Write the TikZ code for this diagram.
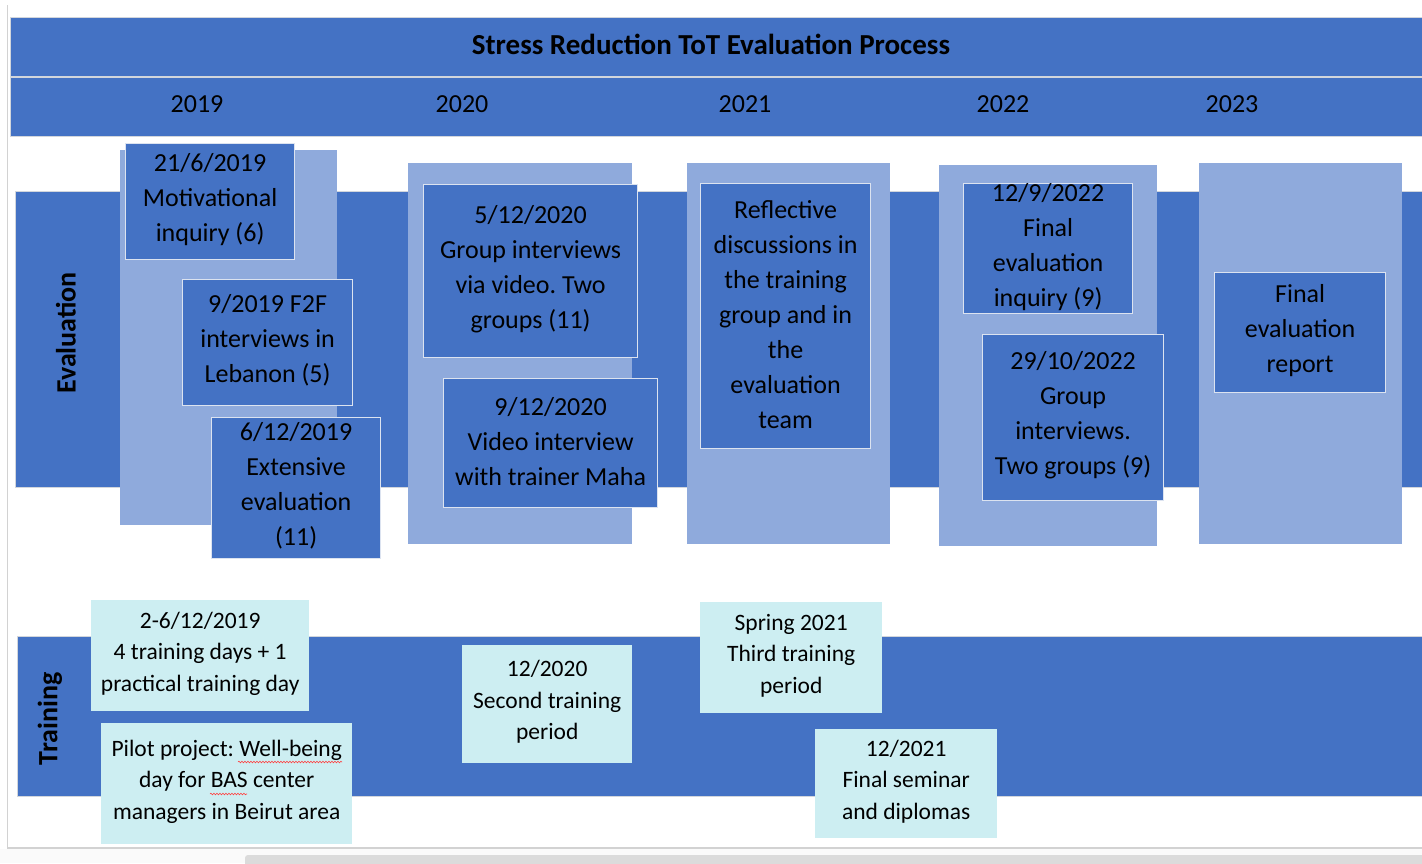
\documentclass[tikz,border=0pt]{standalone}
\usepackage{fontspec}
\setmainfont{Carlito}
\frenchspacing
\usetikzlibrary{positioning,decorations.pathmorphing}
\definecolor{darkblue}{HTML}{4472C4}
\definecolor{paleblue}{HTML}{8FAADC}
\definecolor{palecyan}{HTML}{CDEEF2}
\definecolor{edgegray}{HTML}{D2D6DC}
\definecolor{boxedge}{HTML}{DCE3F0}
\tikzset{>=latex}

\begin{document}
\begin{tikzpicture}[x=1pt,y=-1pt,
	band/.style={fill=darkblue,draw=edgegray,line width=0.8pt},
	yearcol/.style={fill=paleblue,inner sep=0pt,anchor=north west},
	evbox/.style={fill=darkblue,draw=boxedge,line width=1.2pt,inner sep=0pt,anchor=north west},
	trbox/.style={fill=palecyan,inner sep=0pt,anchor=north west},
	evtext/.style={align=center,inner sep=0pt,yshift=2pt,font=\fontsize{26}{35}\selectfont},
	trtext/.style={align=center,inner sep=0pt,yshift=2pt,font=\fontsize{23.5}{31.5}\selectfont},
	yeartext/.style={font=\fontsize{26}{30}\selectfont},
	sidetext/.style={rotate=90,font=\bfseries\fontsize{28}{30}\selectfont},
	spell/.style={red!75,line width=0.6pt,decorate,decoration={snake,amplitude=0.8pt,segment length=3pt}}]
	\useasboundingbox (0,0) rectangle (1422,863);
	% window edge
	\fill[gray!4] (0,849) rectangle (1422,863);
	\fill[gray!28,rounded corners=3pt] (245,855) rectangle (1430,870);
	\draw[gray!35,line width=1.2pt] (7.5,5) -- (7.5,848) -- (1422,848);
	% bands
	\draw[band] (10,17) rectangle (1425,76);
	\draw[band] (10,77) rectangle (1425,136);
	\draw[band] (15,191) rectangle (1425,487);
	\draw[band] (17,636) rectangle (1425,796);
	\node[font=\bfseries\fontsize{29}{32}\selectfont] (title) at (711,44) {Stress Reduction ToT Evaluation Process};
	\node[yeartext] (y2019) at (197,104) {2019};
	\node[yeartext] (y2020) at (462,104) {2020};
	\node[yeartext] (y2021) at (745,104) {2021};
	\node[yeartext] (y2022) at (1003,104) {2022};
	\node[yeartext] (y2023) at (1232,104) {2023};
	\node[sidetext] (eval) at (66,333) {Evaluation};
	\node[sidetext] (train) at (50,719) {Training};
	% year columns
	\node[yearcol,minimum width=217pt,minimum height=375pt] (c2019) at (120,150) {};
	\node[yearcol,minimum width=224pt,minimum height=381pt] (c2020) at (408,163) {};
	\node[yearcol,minimum width=203pt,minimum height=381pt] (c2021) at (687,163) {};
	\node[yearcol,minimum width=218pt,minimum height=381pt] (c2022) at (939,165) {};
	\node[yearcol,minimum width=203pt,minimum height=381pt] (c2023) at (1199,163) {};
	% evaluation
	\node[evbox,minimum width=169pt,minimum height=116pt] (mot) at (125,143) {};
	\node[evtext] (motT) at (mot.center) {21/6/2019\\Motivational\\inquiry (6)};
	\node[evbox,minimum width=170pt,minimum height=126pt] (f2f) at (182,279) {};
	\node[evtext] (f2fT) at (f2f.center) {9/2019 F2F\\interviews in\\Lebanon (5)};
	\node[evbox,minimum width=169pt,minimum height=141pt] (ext) at (211,417) {};
	\node[evtext] (extT) at (ext.center) {6/12/2019\\Extensive\\evaluation\\(11)};
	\node[evbox,minimum width=214pt,minimum height=173pt] (grp20) at (423,184) {};
	\node[evtext] (grp20T) at (grp20.center) {5/12/2020\\Group interviews\\via video. Two\\groups (11)};
	\node[evbox,minimum width=214pt,minimum height=129pt] (vid) at (443,378) {};
	\node[evtext] (vidT) at (vid.center) {9/12/2020\\Video interview\\with trainer Maha};
	\node[evbox,minimum width=170pt,minimum height=265pt] (refl) at (700,183) {};
	\node[evtext] (reflT) at (refl.center) {Reflective\\discussions in\\the training\\group and in\\the\\evaluation\\team};
	\node[evbox,minimum width=169pt,minimum height=130pt] (fin22) at (963,183) {};
	\node[evtext] (fin22T) at (fin22.center) {12/9/2022\\Final\\evaluation\\inquiry (9)};
	\node[evbox,minimum width=181pt,minimum height=166pt] (grp22) at (982,334) {};
	\node[evtext] (grp22T) at (grp22.center) {29/10/2022\\Group\\interviews.\\Two groups (9)};
	\node[evbox,minimum width=171pt,minimum height=120pt] (rep) at (1214,272) {};
	\node[evtext] (repT) at (rep.center) {Final\\evaluation\\report};
	% training
	\node[trbox,minimum width=218pt,minimum height=111pt] (tr19) at (91,600) {};
	\node[trtext] (tr19T) at (tr19.center) {2-6/12/2019\\4 training days + 1\\practical training day};
	\node[trbox,minimum width=251pt,minimum height=121pt] (pilot) at (101,723) {};
	\node[trtext] (pilotT) at (pilot.center) {Pilot project: Well-being\\day for BAS center\\managers in Beirut area};
	\draw[spell] (238,762) -- (342,762);
	\draw[spell] (210,794) -- (247,794);
	\node[trbox,minimum width=170pt,minimum height=118pt] (tr20) at (462,645) {};
	\node[trtext] (tr20T) at (tr20.center) {12/2020\\Second training\\period};
	\node[trbox,minimum width=182pt,minimum height=111pt] (tr21) at (700,602) {};
	\node[trtext] (tr21T) at (tr21.center) {Spring 2021\\Third training\\period};
	\node[trbox,minimum width=182pt,minimum height=109pt] (sem) at (815,729) {};
	\node[trtext] (semT) at (sem.center) {12/2021\\Final seminar\\and diplomas};
\end{tikzpicture}
\end{document}
